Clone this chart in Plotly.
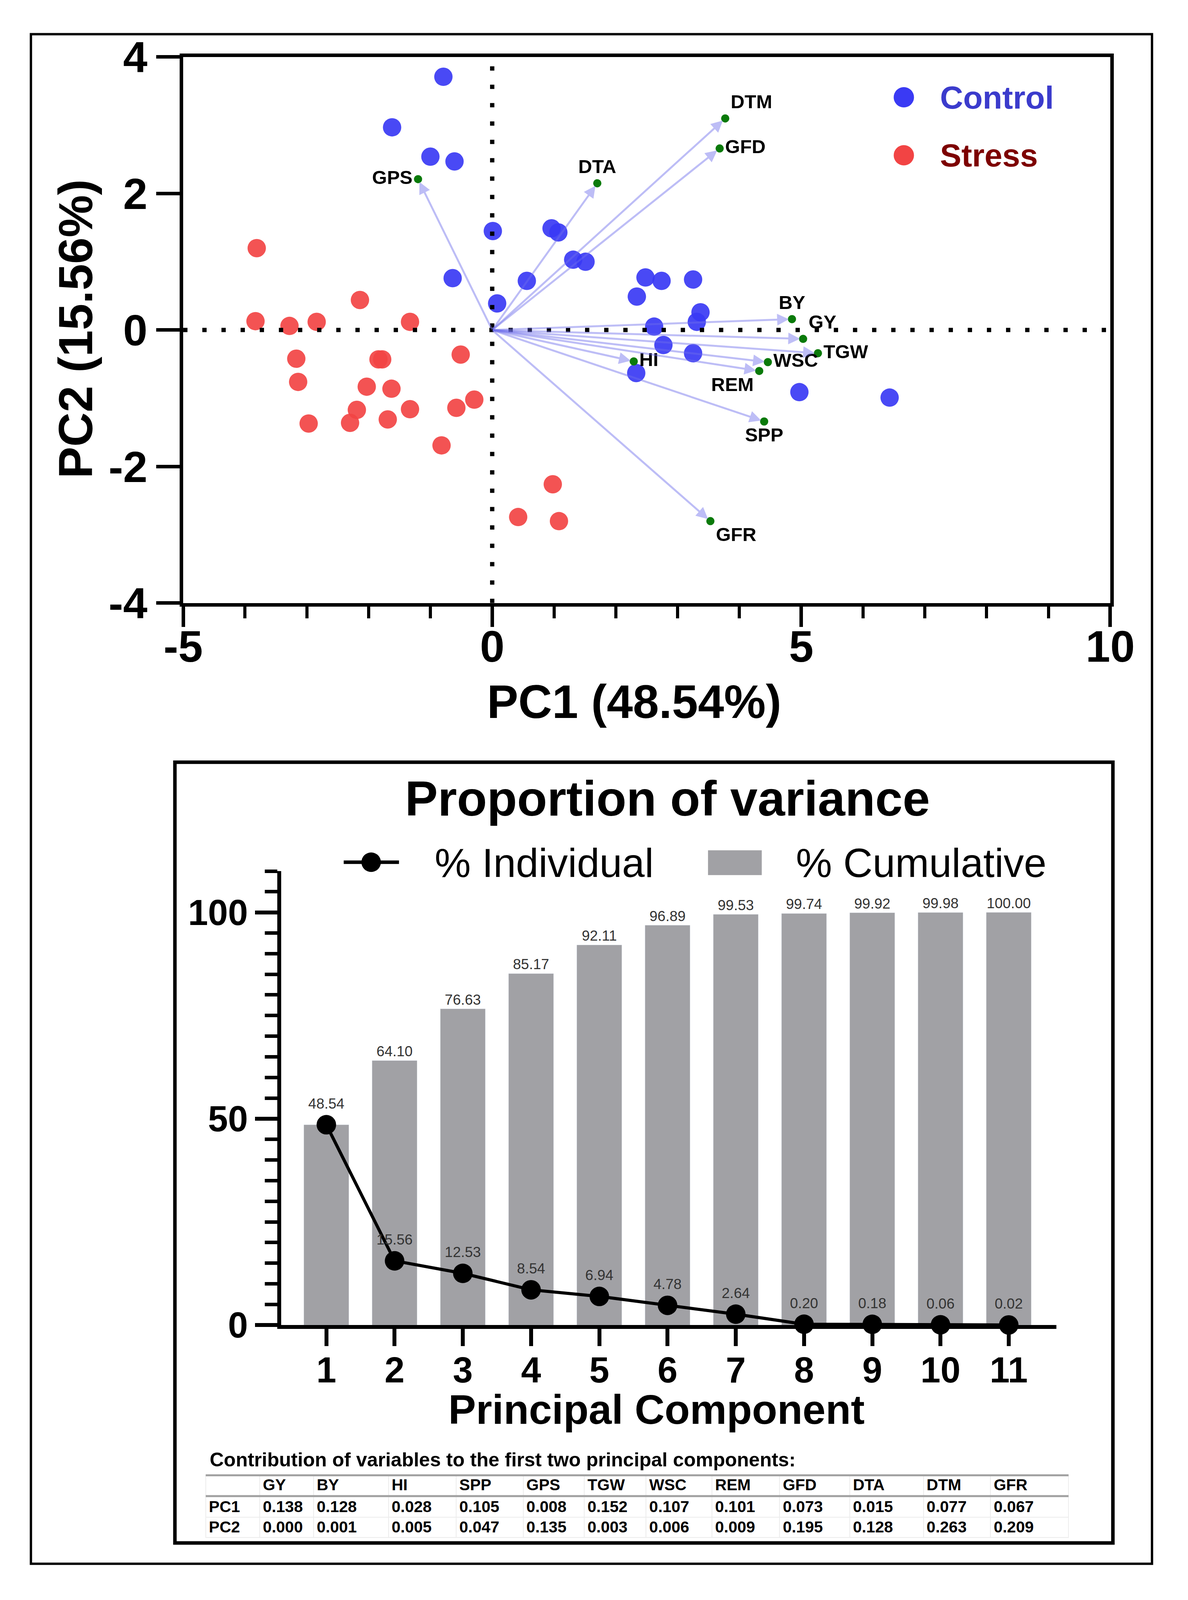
import plotly.graph_objects as go

# the browser viewport is only 4096 px tall, so the reference layout (3042 x 4698)
# is mapped onto a 3026 x 4080 figure (body margin of 8 px around it)
W, H = 3026, 4080
SY = 4096 / 4698
FONT = 'Liberation Sans, Arial, sans-serif'

# ---- PCA biplot data ----
ctrl_pc1 = [-0.79, -1.62, -1.00, -0.61, 0.01, 0.96, 1.07, 1.31, 1.51, -0.64, 0.56, 0.08,
            2.48, 2.74, 3.25, 2.34, 3.37, 3.31, 2.62, 2.77, 3.25, 2.33, 4.97, 6.43]
ctrl_pc2 = [3.71, 2.97, 2.54, 2.47, 1.45, 1.49, 1.43, 1.03, 1.00, 0.76, 0.72, 0.39,
            0.77, 0.72, 0.74, 0.49, 0.26, 0.12, 0.05, -0.22, -0.34, -0.63, -0.91, -0.99]
stress_pc1 = [-3.81, -2.14, -3.83, -3.28, -2.84, -1.33, -3.17, -1.84, -1.78, -0.51, -3.14, -2.03,
              -1.63, -2.19, -2.30, -1.69, -1.33, -0.58, -0.29, -2.97, -0.82, 0.98, 0.42, 1.08]
stress_pc2 = [1.20, 0.44, 0.13, 0.06, 0.12, 0.12, -0.42, -0.43, -0.43, -0.36, -0.76, -0.83,
              -0.86, -1.17, -1.36, -1.31, -1.16, -1.14, -1.02, -1.37, -1.69, -2.26, -2.74, -2.80]

var_names = ['GY', 'BY', 'HI', 'SPP', 'GPS', 'TGW', 'WSC', 'REM', 'GFD', 'DTA', 'DTM', 'GFR']
var_pc1 = [5.03, 4.85, 2.29, 4.40, -1.20, 5.27, 4.46, 4.32, 3.68, 1.70, 3.77, 3.53]
var_pc2 = [-0.13, 0.16, -0.46, -1.34, 2.21, -0.34, -0.47, -0.60, 2.66, 2.15, 3.10, -2.80]
var_textpos = ['top right', 'top center', 'middle right', 'bottom center', 'middle left',
               'middle right', 'middle right', 'bottom left', 'middle right', 'top center',
               'top right', 'bottom right']

# ---- scree data ----
pcs = [1, 2, 3, 4, 5, 6, 7, 8, 9, 10, 11]
pct_individual = [48.54, 15.56, 12.53, 8.54, 6.94, 4.78, 2.64, 0.20, 0.18, 0.06, 0.02]
pct_cumulative = [48.54, 64.10, 76.63, 85.17, 92.11, 96.89, 99.53, 99.74, 99.92, 99.98, 100.00]

# ---- contribution table ----
contrib_pc1 = [0.138, 0.128, 0.028, 0.105, 0.008, 0.152, 0.107, 0.101, 0.073, 0.015, 0.077, 0.067]
contrib_pc2 = [0.000, 0.001, 0.005, 0.047, 0.135, 0.003, 0.006, 0.009, 0.195, 0.128, 0.263, 0.209]


def px(x):
    # reference pixel column -> paper x
    return (x - 8) / W


def py(y):
    # reference pixel row -> paper y
    return 1 - (y * SY - 8) / H


def vlen(v):
    return round(v * SY)


fig = go.Figure()

fig.add_trace(go.Scatter(x=ctrl_pc1, y=ctrl_pc2, mode='markers', name='Control',
                         marker=dict(size=47, color='#3a3af4', opacity=0.92),
                         xaxis='x', yaxis='y', showlegend=False))
fig.add_trace(go.Scatter(x=stress_pc1, y=stress_pc2, mode='markers', name='Stress',
                         marker=dict(size=47, color='#f24444', opacity=0.92),
                         xaxis='x', yaxis='y', showlegend=False))
fig.add_trace(go.Scatter(x=var_pc1, y=var_pc2, mode='markers+text', text=var_names,
                         textposition=var_textpos,
                         textfont=dict(family=FONT, size=49, color='black', weight='bold'),
                         marker=dict(size=21, color='#0a7a0a'),
                         xaxis='x', yaxis='y', showlegend=False, cliponaxis=False))

bar_text = [''] + ['%.2f' % v for v in pct_cumulative[1:]]
fig.add_trace(go.Bar(x=pcs, y=pct_cumulative, width=0.66, marker_color='#a1a1a5',
                     text=bar_text, textposition='outside',
                     textfont=dict(family=FONT, size=37, color='#333333'),
                     xaxis='x2', yaxis='y2', showlegend=False, cliponaxis=False))
fig.add_trace(go.Scatter(x=pcs, y=pct_individual, mode='lines+markers+text',
                         text=['%.2f' % v for v in pct_individual], textposition='top center',
                         textfont=dict(family=FONT, size=37, color='#333333'),
                         line=dict(color='black', width=8),
                         marker=dict(size=50, color='black'),
                         xaxis='x2', yaxis='y2', showlegend=False, cliponaxis=False))

fig.add_trace(go.Table(
    domain=dict(x=[px(495), px(2790)], y=[py(4600), py(4394)]),
    columnwidth=[90, 90, 125, 113, 112, 102, 103, 110, 113, 117, 123, 112, 130],
    header=dict(values=[''] + var_names, align='left', height=vlen(64),
                fill_color='white', line=dict(color='#ececec', width=2),
                font=dict(family=FONT, size=41, color='black', weight='bold')),
    cells=dict(values=[['PC1', 'PC2']] + [['%.3f' % a, '%.3f' % b]
                                           for a, b in zip(contrib_pc1, contrib_pc2)],
               align='left', height=vlen(60), fill_color='white',
               line=dict(color='#ececec', width=2),
               font=dict(family=FONT, size=41, color='black', weight='bold'))))

axis_common = dict(showline=True, linecolor='black', showgrid=False, zeroline=False,
                   ticks='outside', tickcolor='black')

fig.update_layout(
    width=W, height=H, margin=dict(l=0, r=0, t=0, b=0),
    paper_bgcolor='white', plot_bgcolor='white',
    font=dict(family=FONT, color='black'),
    xaxis=dict(domain=[px(435), px(2901)], range=[-5, 10], anchor='y',
               tickvals=[-5, 0, 5, 10], ticktext=['-5', '0', '5', '10'],
               ticklen=vlen(60), tickwidth=9, linewidth=9, mirror=True, ticklabelstandoff=-46,
               minor=dict(dtick=1, ticklen=vlen(34), tickwidth=8, ticks='outside', tickcolor='black'),
               tickfont=dict(size=113, weight='bold'), **axis_common),
    yaxis=dict(domain=[py(1753), py(99)], range=[-4, 4], anchor='x',
               tickvals=[-4, -2, 0, 2, 4], ticktext=['-4', '-2', '0', '2', '4'],
               ticklen=60, tickwidth=9, linewidth=9, mirror=True,
               tickfont=dict(size=112, weight='bold'), **axis_common),
    xaxis2=dict(domain=[px(696), px(2758)], range=[0.34, 11.70], anchor='y2',
                tickvals=pcs, ticklen=vlen(50), tickwidth=10, linewidth=10, ticklabelstandoff=-18,
                tickfont=dict(size=92, weight='bold'), **axis_common),
    yaxis2=dict(domain=[py(3940), py(2565)], range=[0, 110], anchor='x2',
                tickvals=[0, 50, 100], ticklen=57, tickwidth=10, linewidth=10,
                minor=dict(dtick=5, ticklen=32, tickwidth=9, ticks='outside', tickcolor='black'),
                tickfont=dict(size=92, weight='bold'), **axis_common),
)

annotations = []
# loading vectors from the origin to each variable
for vx, vy in zip(var_pc1, var_pc2):
    annotations.append(dict(x=vx, y=vy, ax=0, ay=0, xref='x', yref='y', axref='x', ayref='y',
                            text='', showarrow=True, arrowhead=2, arrowsize=1.2, arrowwidth=5,
                            standoff=8, arrowcolor='rgba(110,110,235,0.45)'))


def label(x, y, text, size, xref='paper', yref='paper', xanchor='center', **kw):
    font = dict(size=size)
    font.update(kw.pop('font', {}))
    return dict(x=x, y=y, xref=xref, yref=yref, xanchor=xanchor, yanchor='middle',
                text=text, showarrow=False, font=font, **kw)


annotations += [
    label(px(1635), py(2052), 'PC1 (48.54%)', 120, font=dict(weight='bold')),
    label(px(150), py(923), 'PC2 (15.56%)', 122, textangle=-90, font=dict(weight='bold')),
    label(7.23, 3.41, 'Control', 82, xref='x', yref='y', xanchor='left',
          font=dict(weight='bold', color='#3b3bcc')),
    label(7.23, 2.56, 'Stress', 82, xref='x', yref='y', xanchor='left',
          font=dict(weight='bold', color='#7d0000')),
    label(px(1723), py(2346), 'Proportion of variance', 126, font=dict(weight='bold')),
    label(px(1102), py(2540), '% Individual', 104, xanchor='left'),
    label(px(2063), py(2540), '% Cumulative', 104, xanchor='left'),
    label(px(1694), py(4195), 'Principal Component', 106, font=dict(weight='bold')),
    label(px(503), py(4348), 'Contribution of variables to the first two principal components:',
          50, xanchor='left', font=dict(weight='bold')),
]

shapes = [
    # outer frame and lower panel frame
    dict(type='rect', xref='paper', yref='paper', x0=px(30), x1=px(3012), y0=py(4663), y1=py(30),
         line=dict(color='black', width=6)),
    dict(type='rect', xref='paper', yref='paper', x0=px(413), x1=px(2908), y0=py(4600), y1=py(2235),
         line=dict(color='black', width=9)),
    # dotted reference lines through the origin
    dict(type='line', xref='x', yref='y', x0=-5, x1=10, y0=0, y1=0,
         line=dict(color='black', width=11, dash='11px,38px')),
    dict(type='line', xref='x', yref='y', x0=0, x1=0, y0=-4, y1=4,
         line=dict(color='black', width=11, dash='11px,36px')),
    # legend glyphs
    dict(type='circle', xref='x', yref='y', xsizemode='pixel', ysizemode='pixel',
         xanchor=6.66, yanchor=3.41, x0=-26, x1=26, y0=-26, y1=26,
         fillcolor='#3a3af4', line=dict(width=0)),
    dict(type='circle', xref='x', yref='y', xsizemode='pixel', ysizemode='pixel',
         xanchor=6.66, yanchor=2.56, x0=-26, x1=26, y0=-26, y1=26,
         fillcolor='#f24444', line=dict(width=0)),
    dict(type='line', xref='paper', yref='paper', x0=px(862), x1=px(1009), y0=py(2538), y1=py(2538),
         line=dict(color='black', width=9)),
    dict(type='circle', xref='paper', yref='paper', xsizemode='pixel', ysizemode='pixel',
         xanchor=px(935), yanchor=py(2538), x0=-25, x1=25, y0=-25, y1=25,
         fillcolor='black', line=dict(width=0)),
    dict(type='rect', xref='paper', yref='paper', x0=px(1831), x1=px(1974),
         y0=py(2577), y1=py(2502), fillcolor='#a1a1a5', line=dict(width=0)),
    # table rules
    dict(type='line', xref='paper', yref='paper', x0=px(495), x1=px(2790), y0=py(4395), y1=py(4395),
         line=dict(color='#a0a0a0', width=5)),
    dict(type='line', xref='paper', yref='paper', x0=px(495), x1=px(2790), y0=py(4458), y1=py(4458),
         line=dict(color='#a0a0a0', width=5)),
]

fig.update_layout(annotations=annotations, shapes=shapes)

fig.write_html('out.html')
